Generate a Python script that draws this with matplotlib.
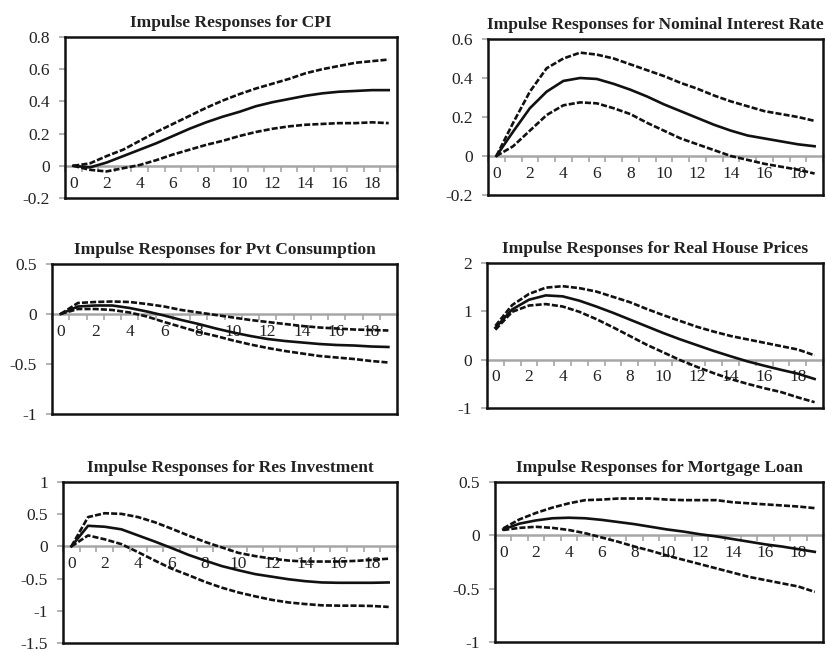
import matplotlib
matplotlib.use("Agg")
import matplotlib.pyplot as plt
from matplotlib.ticker import FixedLocator, NullFormatter

plt.rcParams['font.family'] = ['Liberation Serif', 'DejaVu Serif']
plt.rcParams['axes.unicode_minus'] = False

horizon = list(range(20))
x_labels = [0, 2, 4, 6, 8, 10, 12, 14, 16, 18]

titles = ["Impulse Responses for CPI",
          "Impulse Responses for Nominal Interest Rate",
          "Impulse Responses for Pvt Consumption",
          "Impulse Responses for Real House Prices",
          "Impulse Responses for Res Investment",
          "Impulse Responses for Mortgage Loan"]

cpi_mid = [0, -0.01, 0.02, 0.06, 0.10, 0.14, 0.185, 0.23, 0.27, 0.305, 0.335, 0.37, 0.395, 0.415, 0.435, 0.45, 0.46, 0.465, 0.47, 0.47]
cpi_up = [0, 0.015, 0.06, 0.10, 0.155, 0.21, 0.26, 0.31, 0.36, 0.405, 0.445, 0.48, 0.51, 0.54, 0.575, 0.60, 0.62, 0.64, 0.65, 0.66]
cpi_lo = [0, -0.025, -0.035, -0.015, 0.005, 0.035, 0.07, 0.10, 0.13, 0.155, 0.185, 0.21, 0.23, 0.245, 0.255, 0.26, 0.265, 0.265, 0.27, 0.265]

rate_mid = [0, 0.125, 0.245, 0.33, 0.385, 0.40, 0.395, 0.37, 0.34, 0.305, 0.265, 0.23, 0.195, 0.16, 0.13, 0.105, 0.09, 0.075, 0.06, 0.05]
rate_up = [0, 0.17, 0.33, 0.45, 0.50, 0.53, 0.52, 0.50, 0.47, 0.44, 0.41, 0.375, 0.345, 0.31, 0.28, 0.255, 0.23, 0.215, 0.20, 0.18]
rate_lo = [0, 0.05, 0.13, 0.21, 0.26, 0.275, 0.27, 0.245, 0.215, 0.17, 0.13, 0.09, 0.06, 0.03, 0.0, -0.02, -0.04, -0.055, -0.07, -0.09]

cons_mid = [0, 0.075, 0.085, 0.085, 0.06, 0.025, -0.015, -0.06, -0.10, -0.145, -0.185, -0.22, -0.25, -0.27, -0.285, -0.30, -0.31, -0.315, -0.325, -0.33]
cons_up = [0, 0.11, 0.12, 0.125, 0.12, 0.10, 0.075, 0.04, 0.015, -0.01, -0.035, -0.06, -0.08, -0.10, -0.12, -0.135, -0.145, -0.155, -0.16, -0.165]
cons_lo = [0, 0.05, 0.05, 0.04, 0.015, -0.025, -0.08, -0.13, -0.18, -0.22, -0.265, -0.305, -0.34, -0.37, -0.395, -0.42, -0.435, -0.45, -0.47, -0.485]

house_mid = [0.66, 1.04, 1.24, 1.33, 1.31, 1.22, 1.10, 0.97, 0.83, 0.69, 0.55, 0.42, 0.30, 0.18, 0.07, -0.035, -0.125, -0.21, -0.29, -0.40]
house_up = [0.70, 1.13, 1.36, 1.49, 1.52, 1.48, 1.41, 1.30, 1.19, 1.05, 0.92, 0.80, 0.68, 0.58, 0.49, 0.42, 0.35, 0.28, 0.21, 0.09]
house_lo = [0.62, 0.99, 1.12, 1.15, 1.10, 0.99, 0.84, 0.67, 0.49, 0.31, 0.15, -0.01, -0.15, -0.28, -0.40, -0.50, -0.59, -0.67, -0.78, -0.88]

inv_mid = [0, 0.32, 0.305, 0.265, 0.17, 0.075, -0.025, -0.13, -0.22, -0.305, -0.37, -0.43, -0.47, -0.51, -0.54, -0.56, -0.565, -0.565, -0.565, -0.56]
inv_up = [0, 0.455, 0.515, 0.505, 0.455, 0.375, 0.275, 0.17, 0.07, -0.015, -0.10, -0.15, -0.19, -0.22, -0.235, -0.235, -0.235, -0.225, -0.21, -0.19]
inv_lo = [0, 0.17, 0.11, 0.035, -0.09, -0.22, -0.345, -0.445, -0.55, -0.64, -0.715, -0.775, -0.83, -0.87, -0.895, -0.915, -0.92, -0.92, -0.925, -0.94]

loan_mid = [0.055, 0.11, 0.14, 0.16, 0.165, 0.16, 0.145, 0.125, 0.105, 0.08, 0.055, 0.035, 0.01, -0.01, -0.035, -0.06, -0.085, -0.105, -0.13, -0.155]
loan_up = [0.065, 0.15, 0.21, 0.26, 0.30, 0.33, 0.335, 0.345, 0.345, 0.345, 0.335, 0.33, 0.33, 0.33, 0.31, 0.30, 0.29, 0.28, 0.27, 0.255]
loan_lo = [0.05, 0.07, 0.08, 0.07, 0.05, 0.02, -0.02, -0.06, -0.105, -0.145, -0.19, -0.23, -0.27, -0.31, -0.35, -0.39, -0.42, -0.45, -0.48, -0.53]

y_ticks = [
    [-0.2, 0, 0.2, 0.4, 0.6, 0.8],
    [-0.2, 0, 0.2, 0.4, 0.6],
    [-1, -0.5, 0, 0.5],
    [-1, 0, 1, 2],
    [-1.5, -1, -0.5, 0, 0.5, 1],
    [-1, -0.5, 0, 0.5],
]

series = [
    (cpi_mid, cpi_up, cpi_lo),
    (rate_mid, rate_up, rate_lo),
    (cons_mid, cons_up, cons_lo),
    (house_mid, house_up, house_lo),
    (inv_mid, inv_up, inv_lo),
    (loan_mid, loan_up, loan_lo),
]

W, H = 825, 652
# panel boxes in pixels: left, top, right, bottom
boxes = [
    (65, 37, 397, 198),
    (488, 39, 823, 195),
    (52, 264, 397, 414),
    (487, 263, 823, 408),
    (63, 482, 397, 643),
    (495, 482, 823, 642),
]

fig = plt.figure(figsize=(W / 100, H / 100), dpi=100)
GRAY = "#a6a6a6"

def fmt(v):
    return f"{v:g}"

for i in range(6):
    l, t, r, b = boxes[i]
    ax = fig.add_axes([l / W, 1 - b / H, (r - l) / W, (b - t) / H])
    mid, up, lo = series[i]
    yt = y_ticks[i]
    ax.set_xlim(-0.5, 19.5)
    ax.set_ylim(yt[0], yt[-1])

    ax.plot(horizon, up, color="#111111", lw=1.9, dashes=(2.3, 0.8), zorder=4)
    ax.plot(horizon, lo, color="#111111", lw=1.9, dashes=(2.3, 0.8), zorder=4)
    ax.plot(horizon, mid, color="#111111", lw=1.9, zorder=5)

    for s in ax.spines.values():
        s.set_color("#111111")
        s.set_linewidth(1.8)

    ax.set_xticks([])
    ax.set_yticks(yt)
    ax.set_yticklabels([fmt(v) for v in yt])
    ax.tick_params(axis="y", direction="out", length=4, width=1.2, color=GRAY,
                   labelsize=12.5, labelcolor="#222222", pad=7)

    frac = (0 - yt[0]) / (yt[-1] - yt[0])
    sec = ax.secondary_xaxis(frac)
    sec.xaxis.set_ticks_position("bottom")
    sec.xaxis.set_label_position("bottom")
    for name, sp in sec.spines.items():
        if name != "bottom":
            sp.set_visible(False)
    sec.spines["bottom"].set_visible(True)
    sec.spines["bottom"].set_color(GRAY)
    sec.spines["bottom"].set_linewidth(1.8)
    sec.set_xticks(x_labels)
    sec.set_xticklabels([str(v) for v in x_labels])
    sec.xaxis.set_minor_locator(FixedLocator([k + 0.5 for k in range(-1, 20)]))
    sec.xaxis.set_minor_formatter(NullFormatter())
    sec.tick_params(axis="x", which="major", bottom=True, top=False,
                    labelbottom=True, labeltop=False, length=0, labelsize=12.5,
                    labelcolor="#222222", pad=7)
    sec.tick_params(axis="x", which="minor", bottom=True, top=False,
                    direction="out", length=4, width=1.2, color=GRAY)

    ax.set_title(titles[i], fontsize=12.5, fontweight="bold", color="#222222", pad=7)

fig.savefig("out.png", dpi=100)
